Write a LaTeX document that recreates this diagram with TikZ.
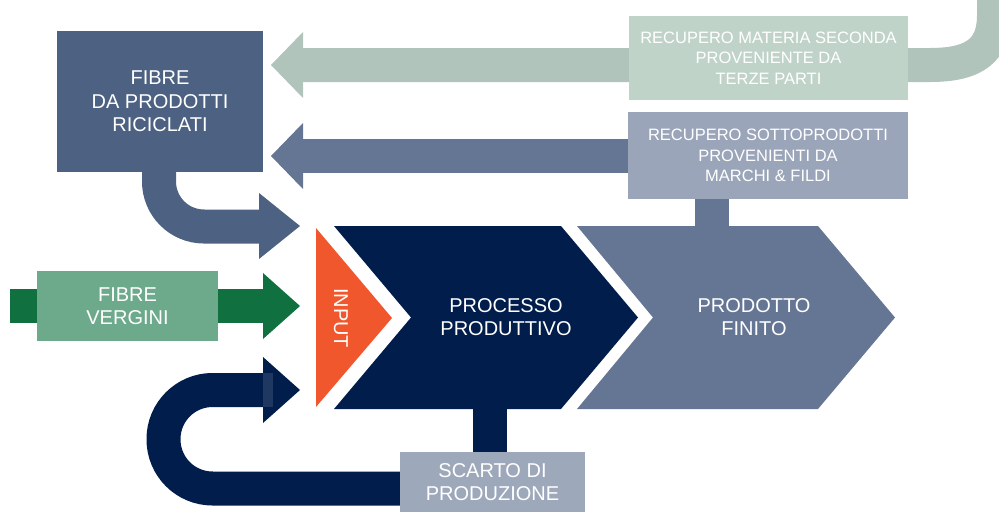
\documentclass[tikz,border=0pt]{standalone}
\usepackage{fontspec}
\setmainfont{Liberation Sans}
\definecolor{fdnavy}{HTML}{001D4C}
\definecolor{fdslate}{HTML}{4D6182}
\definecolor{fdsteel}{HTML}{657694}
\definecolor{fdsage}{HTML}{B0C4BB}
\definecolor{fdsagebox}{HTML}{C0D3C9}
\definecolor{fdgrey}{HTML}{9AA5B9}
\definecolor{fdorange}{HTML}{F0572D}
\definecolor{fdgreen}{HTML}{107040}
\definecolor{fdgreenbox}{HTML}{6DA98B}

\begin{document}
\begin{tikzpicture}[x=1pt,y=-1pt,
    box/.style={rectangle, inner sep=0pt, align=center, text=white,
        font=\fontsize{20}{23.5}\selectfont},
    smallbox/.style={box, font=\fontsize{16.5}{20.5}\selectfont},
    band/.style={line width=34pt}]
    \useasboundingbox (0,0) rectangle (999,512);

    % Recovery from third parties (top band)
    \draw[band, fdsage] (303,65) -- (930,65) .. controls (975,65) and (994,50) .. (994,15) -- (994,-10);
    \fill[fdsage] (303,32) -- (271,65) -- (303,98) -- cycle;

    % Recovery of by-products
    \draw[band, fdsteel] (303,156) -- (628,156);
    \fill[fdsteel] (303,123) -- (271,156) -- (303,189) -- cycle;
    \fill[fdsteel] (695,198) rectangle (729,227);

    % Recycled fibres into input
    \draw[band, fdslate, rounded corners=45pt] (159,170) -- (159,226.5) -- (261,226.5);
    \fill[fdslate] (259,193) -- (300,226) -- (259,259) -- cycle;

    % Virgin fibres into input
    \draw[band, fdgreen] (10,306) -- (265,306);
    \fill[fdgreen] (263,273) -- (300,306) -- (263,339) -- cycle;

    % Production waste back to input
    \fill[fdnavy] (473,408) rectangle (507,453);
    \draw[band, fdnavy, rounded corners=49pt] (401,488.5) -- (163.5,488.5) -- (163.5,390) -- (265,390);
    \fill[fdnavy] (263,357) -- (300,390) -- (263,423) -- cycle;
    \fill[fdnavy!88!white] (263,373) rectangle (273,407);

    % Chevrons
    \fill[fdorange] (316,228) -- (392,318) -- (316,407) -- cycle;
    \fill[fdnavy] (334,226) -- (561,226) -- (638,317.5) -- (561,409) -- (334,409) -- (411,317.5) -- cycle;
    \fill[fdsteel] (577,226) -- (818,226) -- (895,317.5) -- (818,409) -- (577,409) -- (653,317.5) -- cycle;

    % Boxes
    \node[box, fill=fdslate, minimum width=206pt, minimum height=141pt] (ricic) at (160,101.5) {FIBRE\\DA PRODOTTI\\RICICLATI};
    \node[smallbox, fill=fdsagebox, minimum width=279pt, minimum height=84pt] (recmat) at (768.5,58) {RECUPERO MATERIA SECONDA\\PROVENIENTE DA\\TERZE PARTI};
    \node[smallbox, fill=fdgrey, minimum width=280pt, minimum height=87pt] (recsot) at (768,155.5) {RECUPERO SOTTOPRODOTTI\\PROVENIENTI DA\\MARCHI \& FILDI};
    \node[box, fill=fdgreenbox, minimum width=181pt, minimum height=70pt] (vergini) at (127.5,306) {FIBRE\\VERGINI};
    \node[box, fill=fdgrey!97!white, minimum width=185pt, minimum height=60pt] (scarto) at (492.5,482) {SCARTO DI\\PRODUZIONE};

    % Chevron labels
    \node[box, rotate=-90] (input) at (341,318) {INPUT};
    \node[box] (processo) at (506,317) {PROCESSO\\PRODUTTIVO};
    \node[box] (finito) at (754,317) {PRODOTTO\\FINITO};
\end{tikzpicture}
\end{document}
